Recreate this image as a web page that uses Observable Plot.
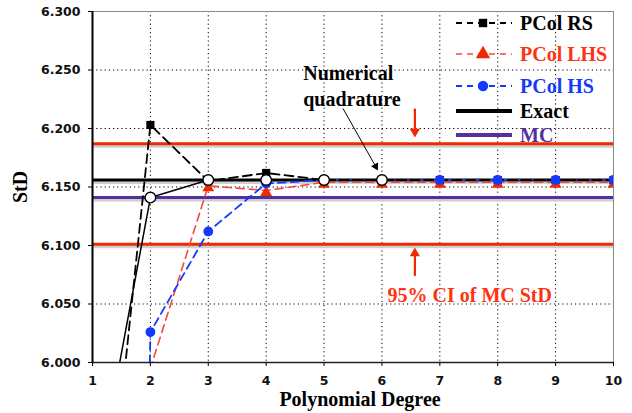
<!DOCTYPE html>
<html>
<head>
<meta charset="utf-8">
<script src="https://cdn.jsdelivr.net/npm/d3@7"></script>
<script src="https://cdn.jsdelivr.net/npm/@observablehq/plot@0.6"></script>
<style>
  html, body { margin: 0; padding: 0; background: #fff; }
  #wrap { position: relative; width: 632px; height: 413px; }
  #legend { position: absolute; left: 0; top: 0; pointer-events: none; }
</style>
</head>
<body>
<div id="wrap"></div>
<script>
// ---- data ----
const degrees = [1, 2, 3, 4, 5, 6, 7, 8, 9, 10];
const rsValues  = [5.730, 6.203, 6.155, 6.162, 6.156, 6.156, 6.156, 6.156, 6.156, 6.156];
const lhsValues = [5.800, 5.995, 6.151, 6.147, 6.154, 6.154, 6.154, 6.154, 6.154, 6.154];
const hsValues  = [3.400, 6.026, 6.112, 6.153, 6.156, 6.156, 6.156, 6.156, 6.156, 6.156];
const quadDegrees = [1, 2, 3, 4, 5, 6];
const quadValues  = [5.875, 6.141, 6.156, 6.156, 6.156, 6.156];
const exactStd = 6.156;
const mcStd = 6.141;
const ciBounds = [6.101, 6.187];
const xTicks = [1, 2, 3, 4, 5, 6, 7, 8, 9, 10];
const yTicks = [6.0, 6.05, 6.1, 6.15, 6.2, 6.25, 6.3];
const legendItems = ["PCol RS", "PCol LHS", "PCol HS", "Exact", "MC"];
// annotations (data space)
const quadLabel = {text: "Numerical\nquadrature", degree: 4.64, std: 6.2376};
const quadArrow = {x1: 5.328, y1: 6.2171, x2: 5.891, y2: 6.1676};
const ciLabel = {text: "95% CI of MC StD", degree: 7.517, std: 6.057};
const ciArrows = [
  {x: 6.569, y1: 6.217, y2: 6.1973, rotate: 180},
  {x: 6.569, y1: 6.074, y2: 6.0933, rotate: 0}
];

const toRows = (xs, vs) => xs.map((d, i) => ({degree: d, std: vs[i]}));
const rs = toRows(degrees, rsValues);
const lhs = toRows(degrees, lhsValues);
const hs = toRows(degrees, hsValues);
const quad = toRows(quadDegrees, quadValues);

const C = {
  black: "#000",
  red: "#ee2a00",
  lhs: "#f24a3a",
  lhsText: "#ff3311",
  blue: "#1438ff",
  purple: "#55309c",
  shadow: "#cfcfcf"
};
const serif = "'Liberation Serif', 'Times New Roman', serif";

const hRules = [
  {v: ciBounds[0], c: C.red},
  {v: ciBounds[1], c: C.red},
  {v: mcStd, c: C.purple},
  {v: exactStd, c: C.black}
];

const plot = Plot.plot({
  width: 632,
  height: 413,
  marginLeft: 92,
  marginRight: 19,
  marginTop: 11,
  marginBottom: 51,
  style: {fontFamily: "'DejaVu Sans', Verdana, sans-serif", fontSize: "12.5px", fontWeight: "bold", color: "#111", background: "#fff"},
  x: {domain: [1, 10]},
  y: {domain: [6.0, 6.3]},
  marks: [
    Plot.ruleX(xTicks, {stroke: "#000", strokeWidth: 1, strokeDasharray: "1.2,3"}),
    Plot.ruleY(yTicks, {stroke: "#000", strokeWidth: 1, strokeDasharray: "1.2,3"}),
    Plot.frame({stroke: "#8a8a8a", strokeWidth: 1}),
    // shadows + reference lines
    Plot.ruleY(hRules, {y: "v", stroke: C.shadow, strokeWidth: 3, dy: 2.5}),
    Plot.ruleY(hRules, {y: "v", stroke: "c", strokeWidth: 3}),
    // series lines
    Plot.line(quad, {x: "degree", y: "std", stroke: C.black, strokeWidth: 1.5, clip: true}),
    Plot.line(lhs, {x: "degree", y: "std", stroke: C.lhs, strokeWidth: 1.6, strokeDasharray: "8,5", clip: true}),
    Plot.line(hs, {x: "degree", y: "std", stroke: C.blue, strokeWidth: 1.8, strokeDasharray: "8,5", clip: true}),
    Plot.line(rs, {x: "degree", y: "std", stroke: C.black, strokeWidth: 1.8, strokeDasharray: "9,5", clip: true}),
    // markers
    Plot.dot(rs, {x: "degree", y: "std", symbol: "square", r: 4.6, fill: C.black, clip: true}),
    Plot.dot(lhs, {x: "degree", y: "std", symbol: "triangle", r: 4.4, fill: C.red, dy: 2, clip: true}),
    Plot.dot(hs, {x: "degree", y: "std", symbol: "circle", r: 4.9, fill: C.blue, clip: true}),
    Plot.dot(quad, {x: "degree", y: "std", symbol: "circle", r: 5.3, fill: "#fff", stroke: C.black, strokeWidth: 1.4, clip: true}),
    // axes
    Plot.ruleX([1], {stroke: "#000", strokeWidth: 2}),
    Plot.ruleY([6.0], {stroke: "#222", strokeWidth: 1.5}),
    Plot.axisX({ticks: xTicks, tickSize: 4, tickPadding: 10, tickFormat: d => d, label: null, stroke: "#000"}),
    Plot.axisY({ticks: yTicks, tickSize: 4, tickPadding: 8, tickFormat: d3.format(".3f"), label: null, stroke: "#000"}),
    Plot.text(["StD"], {frameAnchor: "left", dx: -72, rotate: -90, textAnchor: "middle", lineAnchor: "middle", fontFamily: serif, fontSize: 20, fontWeight: "bold", fill: "#000"}),
    Plot.text(["Polynomial Degree"], {frameAnchor: "bottom", dx: 7, dy: 37, textAnchor: "middle", lineAnchor: "middle", fontFamily: serif, fontSize: 20, fontWeight: "bold", fill: "#000"}),
    // annotations
    Plot.text([quadLabel], {x: "degree", y: "std", text: "text", textAnchor: "start", lineHeight: 1.3, fontFamily: serif, fontSize: 20, fontWeight: "bold", fill: "#000"}),
    Plot.link([quadArrow], {x1: "x1", y1: "y1", x2: "x2", y2: "y2", stroke: "#000", strokeWidth: 1}),
    Plot.dot([quadArrow], {x: "x2", y: "y2", symbol: "triangle", r: 3, fill: "#000", rotate: 150.6}),
    Plot.text([ciLabel], {x: "degree", y: "std", text: "text", fontFamily: serif, fontSize: 20, fontWeight: "bold", fill: C.lhsText}),
    Plot.link(ciArrows, {x1: "x", x2: "x", y1: "y1", y2: "y2", stroke: C.red, strokeWidth: 2.2}),
    Plot.dot(ciArrows, {x: "x", y: "y2", symbol: "triangle", r: 3.8, fill: C.red, rotate: "rotate"})
  ]
});

const wrap = document.getElementById("wrap");
wrap.appendChild(plot);

// ---- legend overlay ----
const legendStyles = [
  {color: C.black, text: C.black, dash: "6,5", symbol: d3.symbolSquare, size: 70, width: 1.8},
  {color: C.lhs, text: C.lhsText, dash: "6,5", symbol: d3.symbolTriangle, size: 90, width: 1.6, mfill: C.red},
  {color: C.blue, text: C.blue, dash: "6,5", symbol: d3.symbolCircle, size: 85, width: 1.8},
  {color: C.black, text: C.black, dash: null, symbol: null, width: 4},
  {color: C.purple, text: C.purple, dash: null, symbol: null, width: 4}
];
const rowY = [23, 54, 86, 111, 135];
const svg = d3.select(wrap).append("svg")
  .attr("id", "legend").attr("width", 632).attr("height", 413);
legendItems.forEach((name, i) => {
  const s = legendStyles[i];
  const g = svg.append("g").attr("transform", `translate(0,${rowY[i]})`);
  g.append("line").attr("x1", 456).attr("x2", 512).attr("y1", 0).attr("y2", 0)
    .attr("stroke", s.color).attr("stroke-width", s.width)
    .attr("stroke-dasharray", s.dash);
  if (s.symbol) {
    g.append("path").attr("d", d3.symbol(s.symbol, s.size)())
      .attr("transform", "translate(483,0)").attr("fill", s.mfill || s.color);
  }
  g.append("text").attr("x", 520).attr("y", 0).attr("dy", "0.35em")
    .attr("font-family", serif).attr("font-size", 20).attr("font-weight", "bold")
    .attr("fill", s.text).text(name);
});
</script>
</body>
</html>
